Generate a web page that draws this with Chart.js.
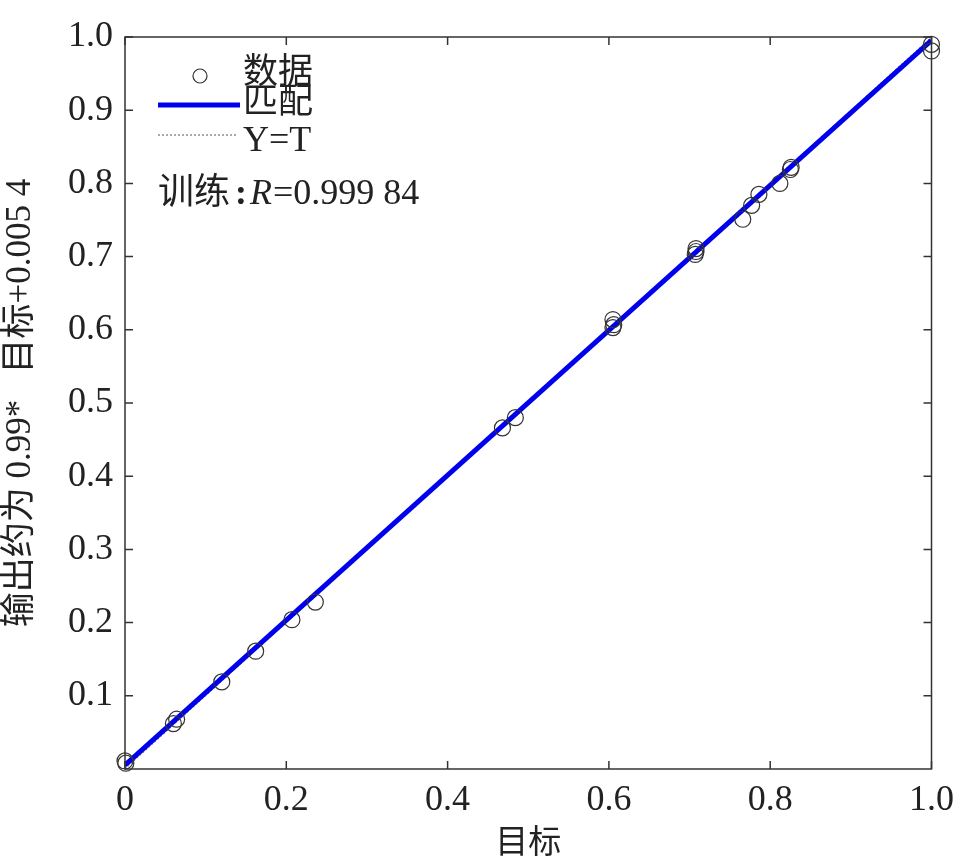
<!DOCTYPE html>
<html><head><meta charset="utf-8">
<script src="https://cdn.jsdelivr.net/npm/chart.js@4/dist/chart.umd.min.js"></script>
<style>html,body{margin:0;padding:0;background:#fff}#wrap{width:964px;height:864px}</style>
</head><body><div id="wrap"><canvas id="c" width="964" height="864"></canvas></div>
<script>
const targetX = [0.000,0.001,0.060,0.064,0.120,0.162,0.207,0.236,0.468,0.484,0.605,0.606,0.605,0.708,0.708,0.707,0.766,0.777,0.786,0.812,0.825,0.826,1.000,1.000];
const outputY = [0.011,0.008,0.062,0.068,0.119,0.161,0.204,0.228,0.466,0.480,0.614,0.607,0.603,0.711,0.707,0.703,0.751,0.770,0.785,0.800,0.819,0.822,0.990,0.981];
const fitSlope = 0.99, fitIntercept = 0.0054;
const xTicks = [0,0.2,0.4,0.6,0.8,1.0];
const yTicks = [0.1,0.2,0.3,0.4,0.5,0.6,0.7,0.8,0.9,1.0];
const legendLabels = ['数据','匹配','Y=T'];
const annotation = ['训练',':','R','=0.999 84'];
const xTitle = '目标';
const yTitle = '输出约为 0.99*   目标+0.005 4';

const FONT = '"Liberation Serif","Noto Sans CJK SC",serif';
const fmt = v => v === 0 ? '0' : v.toFixed(1);

const scatterData = targetX.map((x,i)=>({x:x,y:outputY[i]}));
const fitData = [0,1].map(x=>({x:x,y:fitSlope*x+fitIntercept}));
const idData = [0,1].map(x=>({x:x,y:x}));

const framePlugin = {
  id:'frame',
  afterDraw(chart){
    const {ctx, chartArea:a, scales:{x,y}} = chart;
    ctx.save();
    ctx.strokeStyle='#333'; ctx.lineWidth=1.5;
    ctx.strokeRect(a.left, a.top, a.right-a.left, a.bottom-a.top);
    const L=8;
    ctx.beginPath();
    xTicks.forEach(v=>{const px=x.getPixelForValue(v);
      ctx.moveTo(px,a.bottom);ctx.lineTo(px,a.bottom-L);
      ctx.moveTo(px,a.top);ctx.lineTo(px,a.top+L);});
    yTicks.forEach(v=>{const py=y.getPixelForValue(v);
      ctx.moveTo(a.left,py);ctx.lineTo(a.left+L,py);
      ctx.moveTo(a.right,py);ctx.lineTo(a.right-L,py);});
    ctx.stroke();
    // legend
    ctx.fillStyle='#222';
    ctx.font='35px '+FONT; ctx.textBaseline='middle'; ctx.textAlign='left';
    ctx.lineWidth=1.2; ctx.strokeStyle='#333';
    ctx.beginPath(); ctx.arc(200,76,7,0,Math.PI*2); ctx.stroke();
    ctx.fillText(legendLabels[0],243,74);
    ctx.strokeStyle='#0000ee'; ctx.lineWidth=5;
    ctx.beginPath(); ctx.moveTo(158,105); ctx.lineTo(240,105); ctx.stroke();
    ctx.fillText(legendLabels[1],243,104);
    ctx.strokeStyle='#555'; ctx.lineWidth=1; ctx.setLineDash([2,2]);
    ctx.beginPath(); ctx.moveTo(158,135); ctx.lineTo(238,135); ctx.stroke();
    ctx.setLineDash([]);
    ctx.font='36px '+FONT;
    ctx.fillText(legendLabels[2],243,142);
    // annotation
    ctx.font='36px '+FONT;
    ctx.fillText(annotation[0],158,195);
    ctx.font='bold 36px '+FONT;
    ctx.fillText(annotation[1],235,195);
    ctx.font='italic 36px '+FONT; ctx.fillText(annotation[2],250,195);
    ctx.font='36px '+FONT; ctx.fillText(annotation[3],273,195);
    ctx.restore();
  }
};

new Chart(document.getElementById('c'),{
  type:'scatter',
  data:{datasets:[
    {label:legendLabels[0],data:scatterData,pointStyle:'circle',pointRadius:8,pointBorderColor:'#333',pointBorderWidth:1.2,pointBackgroundColor:'rgba(0,0,0,0)',showLine:false,clip:false},
    {label:legendLabels[1],type:'line',data:fitData,borderColor:'#0000ee',borderWidth:5,pointRadius:0,fill:false},
    {label:legendLabels[2],type:'line',data:idData,borderColor:'#666',borderWidth:1,borderDash:[2,2],pointRadius:0,fill:false}
  ]},
  options:{
    responsive:false, animation:false, devicePixelRatio:1,
    layout:{padding:{left:0,right:31,top:37,bottom:0}},
    plugins:{legend:{display:false},tooltip:{enabled:false}},
    scales:{
      x:{type:'linear',min:0,max:1,
        afterFit(s){s.height=95;},
        afterBuildTicks(s){s.ticks=xTicks.map(v=>({value:v}));},
        grid:{display:false,drawTicks:false},border:{display:false},
        ticks:{padding:10,color:'#222',font:{family:FONT,size:36},callback:v=>fmt(v),maxRotation:0},
        title:{display:true,text:xTitle,color:'#222',font:{family:FONT,size:33},padding:{top:0,bottom:0}}},
      y:{type:'linear',min:0,max:1,
        afterFit(s){s.width=125;},
        afterBuildTicks(s){s.ticks=yTicks.map(v=>({value:v}));},
        grid:{display:false,drawTicks:false},border:{display:false},
        ticks:{padding:12,color:'#222',font:{family:FONT,size:36},callback:v=>fmt(v)},
        title:{display:true,text:yTitle,color:'#222',font:{family:FONT,size:35},padding:{top:0,bottom:0}}}
    }
  },
  plugins:[framePlugin]
});
</script></body></html>
